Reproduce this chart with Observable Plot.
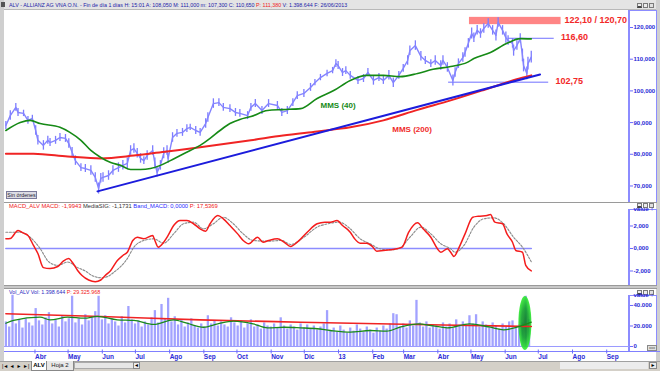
<!DOCTYPE html>
<html><head><meta charset="utf-8">
<script src="https://cdn.jsdelivr.net/npm/d3@7"></script>
<script src="https://cdn.jsdelivr.net/npm/@observablehq/plot@0.6"></script>
<style>
html,body{margin:0;padding:0;}
body{width:660px;height:371px;overflow:hidden;background:#cfcfcf;font-family:Arial,"Liberation Sans",sans-serif;}
#win{position:relative;width:660px;height:371px;overflow:hidden;}
.a{position:absolute;}
.w{background:#fff;}
.axbox{border-left:2px solid #8c8cff;border-right:1px solid #8c8cff;border-top:1px solid #8c8cff;box-sizing:border-box;}
.ttl{font-size:5.8px;line-height:8px;white-space:nowrap;}
.btn{width:5px;height:5px;border:1px solid #7a7a7a;background:#ececec;box-sizing:border-box;}
#win svg{position:absolute;overflow:visible;}
.tab{font-size:6px;line-height:8px;white-space:nowrap;}
</style></head>
<body><div id="win"></div>
<script>
// ---------- data ----------
const price = [["2012-03-07",89.1],["2012-03-11",92.2],["2012-03-16",94.8],["2012-03-18",93.2],["2012-03-23",92.9],["2012-03-27",90.7],["2012-03-31",91.3],["2012-04-03",87.5],["2012-04-05",84.4],["2012-04-10",82.8],["2012-04-14",84.4],["2012-04-16",83.7],["2012-04-21",84.4],["2012-04-25",85.3],["2012-04-30",85.0],["2012-05-03",83.4],["2012-05-06",80.6],["2012-05-09",78.0],["2012-05-14",75.8],["2012-05-18",75.5],["2012-05-23",74.9],["2012-05-27",72.7],["2012-05-30",69.2],["2012-06-01",72.4],["2012-06-03",72.7],["2012-06-08",73.3],["2012-06-12",74.9],["2012-06-17",75.8],["2012-06-21",76.5],["2012-06-25",77.1],["2012-06-28",81.2],["2012-07-01",81.8],["2012-07-04",80.3],["2012-07-07",78.7],["2012-07-10",78.0],["2012-07-13",79.6],["2012-07-18",81.2],["2012-07-20",77.1],["2012-07-22",74.3],["2012-07-25",76.5],["2012-07-28",80.3],["2012-07-31",81.2],["2012-08-01",78.7],["2012-08-05",85.3],["2012-08-09",86.6],["2012-08-14",86.9],["2012-08-18",88.1],["2012-08-21",88.5],["2012-08-26",87.5],["2012-08-30",86.9],["2012-09-04",89.7],["2012-09-06",91.6],["2012-09-11",96.0],["2012-09-16",96.3],["2012-09-20",94.8],["2012-09-26",94.4],["2012-10-01",93.2],["2012-10-05",92.9],["2012-10-12",92.2],["2012-10-15",94.8],["2012-10-19",96.0],["2012-10-25",93.8],["2012-10-31",96.0],["2012-11-08",95.4],["2012-11-12",93.2],["2012-11-17",93.8],["2012-11-22",96.3],["2012-11-26",98.5],["2012-12-02",99.2],["2012-12-08",101.1],["2012-12-12",102.6],["2012-12-17",104.2],["2012-12-23",105.5],["2012-12-28",106.4],["2012-12-31",108.6],["2013-01-02",108.0],["2013-01-06",105.8],["2013-01-09",106.4],["2013-01-13",104.9],["2013-01-20",103.3],["2013-01-25",103.9],["2013-01-29",105.8],["2013-02-03",103.3],["2013-02-08",104.2],["2013-02-12",103.3],["2013-02-17",104.9],["2013-02-21",102.6],["2013-02-26",104.9],["2013-03-02",107.1],["2013-03-06",109.6],["2013-03-08",112.7],["2013-03-13",114.3],["2013-03-18",110.9],["2013-03-22",109.6],["2013-03-27",108.6],["2013-03-31",109.6],["2013-04-05",108.0],["2013-04-07",109.6],["2013-04-11",107.4],["2013-04-16",103.3],["2013-04-18",105.8],["2013-04-21",108.6],["2013-04-25",110.5],["2013-04-27",112.1],["2013-04-30",115.0],["2013-05-03",118.1],["2013-05-05",116.8],["2013-05-08",119.1],["2013-05-11",118.1],["2013-05-14",119.7],["2013-05-18",121.3],["2013-05-22",119.1],["2013-05-25",117.5],["2013-05-27",121.6],["2013-05-31",119.1],["2013-06-03",116.8],["2013-06-05",115.9],["2013-06-09",115.0],["2013-06-10",112.7],["2013-06-13",114.3],["2013-06-16",116.5],["2013-06-18",111.2],["2013-06-19",108.0],["2013-06-22",105.5],["2013-06-23",108.6],["2013-06-26",110.65]];
// daily high-low spread seen around each price point
const priceSpread = [2.5,3,2.5,2.5,2,2.5,2, 3,3,3,2.5,2.5,2.5,2.5,2.5, 3,3,3,2.5,2.5,3,3,3.5, 3,3,3,3,3,3,3.5,3, 3,3,3,2.5,3,3,3.5,3,3,3.5,3, 3,3,2.5,2.5,2.5,2,2.5,2.5, 3,3,3,2.5,2.5,2.5, 2.5,2.5,2.5,2.5,2.5,2.5,2.5, 2.5,2.5,2.5,2.5,2.5, 2.5,2.5,2,2,2,2,2.5, 2.5,2.5,2.5,2.5,2.5,2.5,2.5, 3,2.5,2.5,3,3,2.5, 2.5,3,3,3,3,2.5,2.5,3, 3,3,3,3.5,3,3,3,3,3, 3.5,3,3,3,3,3,3,3.5,3,3, 3.5,3,3,3.5,3,3,4,4,4,4,3.7];

const mms40 = [["2012-03-07",87.5],["2012-03-20",90.0],["2012-03-29",90.7],["2012-04-07",89.7],["2012-04-25",88.5],["2012-05-04",86.9],["2012-05-14",84.4],["2012-05-23",81.2],["2012-06-01",79.0],["2012-06-10",77.4],["2012-06-19",76.5],["2012-06-28",75.2],["2012-07-07",75.2],["2012-07-16",75.5],["2012-07-25",76.5],["2012-08-03",78.0],["2012-08-12",79.6],["2012-08-21",81.2],["2012-08-30",82.8],["2012-09-08",85.0],["2012-09-17",87.5],["2012-09-26",89.7],["2012-10-05",91.0],["2012-10-15",91.9],["2012-10-30",93.8],["2012-11-13",94.1],["2012-11-29",94.4],["2012-12-14",97.6],["2012-12-29",100.1],["2013-01-13",103.3],["2013-01-28",104.9],["2013-02-12",104.9],["2013-02-27",104.5],["2013-03-15",105.5],["2013-03-29",106.8],["2013-04-14",107.7],["2013-04-29",109.0],["2013-05-05",110.2],["2013-05-20",112.1],["2013-06-04",115.0],["2013-06-16",116.5],["2013-06-26",116.4]];

const mms200 = [["2012-03-07",80.2],["2012-04-01",80.2],["2012-05-02",79.3],["2012-06-01",78.7],["2012-07-01",79.6],["2012-07-31",80.9],["2012-08-30",82.2],["2012-10-15",84.4],["2012-11-13",85.9],["2012-12-14",87.2],["2013-01-13",88.5],["2013-02-12",90.7],["2013-03-15",94.0],["2013-04-14",97.0],["2013-05-14",100.3],["2013-05-29",102.0],["2013-06-12",103.6],["2013-06-26",104.9]];

const trendLine = [["2012-05-29",68.3],["2013-07-04",105.2]];
const level116 = [["2013-06-05",116.6],["2013-07-16",116.6]];
const level102 = [["2013-04-12",102.75],["2013-07-11",102.75]];
const resistBand = {x1:"2013-05-01", x2:"2013-07-23", y1:120.9, y2:123.2};
const priceLabels = [["2013-07-26",122.2,"122,10 / 120,70"],["2013-07-23",116.85,"116,60"],["2013-07-18",103.0,"102,75"]];
const maLabels = [["2013-01-02",95.4,"MMS (40)","#168a16"],["2013-03-10",87.8,"MMS (200)","#f02a2a"]];
const mainTicks = [70,80,90,100,110,120];

const macd = [["2012-03-07",0.86],["2012-03-11",0.89],["2012-03-18",1.6],["2012-03-23",1.36],["2012-03-27",1.16],["2012-04-01",0.27],["2012-04-05",-0.44],["2012-04-10",-1.7],["2012-04-16",-1.78],["2012-04-23",-1.6],["2012-04-28",-1.13],["2012-05-03",-0.9],["2012-05-06",-1.2],["2012-05-11",-1.95],["2012-05-15",-2.4],["2012-05-21",-2.8],["2012-05-27",-2.95],["2012-06-01",-2.8],["2012-06-05",-2.4],["2012-06-10",-1.95],["2012-06-16",-1.07],["2012-06-21",-0.62],["2012-06-25",-0.33],["2012-06-30",0.71],["2012-07-04",1.0],["2012-07-10",0.86],["2012-07-18",1.16],["2012-07-20",0.71],["2012-07-23",0.12],["2012-07-28",0.56],["2012-08-01",1.16],["2012-08-06",2.04],["2012-08-12",2.49],["2012-08-18",2.49],["2012-08-24",2.2],["2012-08-30",1.75],["2012-09-04",1.54],["2012-09-08",2.2],["2012-09-15",2.93],["2012-09-20",2.64],["2012-09-26",2.04],["2012-10-03",1.3],["2012-10-08",0.71],["2012-10-13",0.42],["2012-10-21",1.0],["2012-10-26",0.56],["2012-10-31",0.71],["2012-11-08",0.86],["2012-11-14",0.56],["2012-11-20",0.18],["2012-11-26",0.56],["2012-12-05",1.45],["2012-12-14",2.2],["2012-12-21",2.34],["2012-12-26",2.34],["2013-01-01",2.49],["2013-01-06",2.04],["2013-01-13",1.45],["2013-01-17",0.86],["2013-01-22",0.47],["2013-01-28",0.47],["2013-02-02",0.18],["2013-02-06",-0.24],["2013-02-12",-0.18],["2013-02-18",-0.12],["2013-02-24",-0.03],["2013-03-01",0.12],["2013-03-07",1.45],["2013-03-15",2.28],["2013-03-20",1.75],["2013-03-27",1.0],["2013-04-02",-0.03],["2013-04-05",-0.33],["2013-04-11",-0.03],["2013-04-14",-0.33],["2013-04-17",-0.71],["2013-04-21",-0.03],["2013-04-27",1.3],["2013-05-04",2.78],["2013-05-09",2.87],["2013-05-17",2.93],["2013-05-20",3.02],["2013-05-24",2.34],["2013-05-31",2.2],["2013-06-04",1.3],["2013-06-09",0.56],["2013-06-12",-0.18],["2013-06-18",-0.33],["2013-06-21",-1.5],["2013-06-26",-1.99]];

const signal = [["2012-03-07",1.45],["2012-03-20",1.45],["2012-03-29",1.0],["2012-04-07",0.0],["2012-04-15",-1.2],["2012-04-23",-1.5],["2012-05-02",-1.2],["2012-05-11",-1.7],["2012-05-18",-2.0],["2012-05-24",-2.4],["2012-06-01",-2.6],["2012-06-07",-2.5],["2012-06-13",-2.1],["2012-06-25",-0.9],["2012-07-01",0.12],["2012-07-10",0.71],["2012-07-19",0.86],["2012-07-28",0.47],["2012-08-06",1.3],["2012-08-15",2.2],["2012-08-24",2.34],["2012-09-02",1.75],["2012-09-11",2.2],["2012-09-20",2.78],["2012-09-29",2.2],["2012-10-08",1.3],["2012-10-17",0.71],["2012-10-30",0.65],["2012-11-12",0.71],["2012-11-20",0.36],["2012-12-02",1.0],["2012-12-14",1.9],["2012-12-24",2.2],["2013-01-03",2.34],["2013-01-13",1.75],["2013-01-22",0.86],["2013-01-31",0.42],["2013-02-09",-0.03],["2013-02-18",-0.12],["2013-02-27",0.06],["2013-03-08",1.0],["2013-03-18",1.9],["2013-03-27",1.3],["2013-04-05",0.42],["2013-04-14",-0.03],["2013-04-18",-0.33],["2013-04-26",0.27],["2013-05-05",1.9],["2013-05-14",2.64],["2013-05-23",2.73],["2013-06-01",2.2],["2013-06-10",1.0],["2013-06-18",0.12],["2013-06-26",-1.17]];
const macdBand = [["2012-03-07",0],["2013-06-26",0]];
const macdTicks = [-2,0,2];

// volume (thousands), one bar every 3 calendar days from volStart
const volStart = "2012-03-07";
const volume = [24,19,50,22,26,18,27,23,20,37, 25,21,28,33,22,26,19,30,24,27, 49,23,27,21,31,25,28,34,49,26, 30,22,27,24,20,29,23,39,26,22, 25,19,24,21,28,35,23,41,27,47, 24,29,21,26,19,23,27,20,18,22, 19,30,22,25,20,24,21,19,28,23, 20,25,18,22,26,19,21,17,23,20, 19,22,18,28,20,17,21,19,16,22, 18,21,17,20,16,19,22,35,15,18, 14,20,16,13,18,15,21,17,14,19, 16,13,18,15,20,17,22,32,31,19, 22,18,25,20,45,23,19,24,18,21, 20,17,23,19,22,18,26,21,24,20, 30,22,31,19,24,21,18,23,20,17, 22,19,24,25,18,21,23,49,26];
const volMA200 = [["2012-03-07",31.9],["2012-06-01",29.3],["2012-08-30",26.0],["2012-11-29",23.7],["2013-03-27",21.2],["2013-06-26",19.5]];
const volMA40 = [["2012-03-07",22.7],["2012-03-14",25.4],["2012-04-07",28.6],["2012-04-16",26.0],["2012-05-02",28.6],["2012-05-17",27.6],["2012-05-29",29.3],["2012-06-16",26.0],["2012-07-01",25.4],["2012-07-19",21.5],["2012-08-06",26.0],["2012-08-18",22.7],["2012-09-02",18.8],["2012-09-15",22.1],["2012-09-29",24.7],["2012-10-17",22.1],["2012-10-30",18.2],["2012-11-14",18.8],["2012-11-29",18.2],["2012-12-14",17.3],["2012-12-26",15.6],["2013-01-13",14.0],["2013-01-31",15.6],["2013-02-15",14.9],["2013-02-27",18.8],["2013-03-16",22.1],["2013-03-27",20.5],["2013-04-11",18.2],["2013-05-01",22.1],["2013-05-20",18.8],["2013-06-01",16.3],["2013-06-13",18.8],["2013-06-26",23.7]];
const volTicks = [0,20,40];
const volHighlight = {date:"2013-06-20T16:00Z", value:22.4};

const monthTicks = ["2012-04-01","2012-05-01","2012-06-01","2012-07-01","2012-08-01","2012-09-01","2012-10-01","2012-11-01","2012-12-01","2013-01-01","2013-02-01","2013-03-01","2013-04-01","2013-05-01","2013-06-01","2013-07-01","2013-08-01","2013-09-01"];
const monthLabels = ["Abr","May","Jun","Jul","Ago","Sep","Oct","Nov","Dic","13","Feb","Mar","Abr","May","Jun","Jul","Ago","Sep"];

// ---------- helpers ----------
const P = d3.utcParse("%Y-%m-%d");
const rows = arr => arr.map(([d, v]) => ({date: P(d), value: v}));
const xDomain = [new Date("2012-03-05T18:00Z"), new Date("2013-09-23T00:00Z")];
const FONT = "Arial, 'Liberation Sans', sans-serif";
const AX = "#2a2ad6", AXT = "#6a6aff";
const commaFmt = d => d.toFixed(3).replace(".", ",");
const win = document.getElementById("win");
function div(cls, css, html) {
  const e = document.createElement("div");
  e.className = "a " + (cls || "");
  e.style.cssText = css;
  if (html) e.innerHTML = html;
  win.appendChild(e);
  return e;
}
function buttons(top) {
  [637, 643, 649].forEach((l, i) => {
    div("btn", `left:${l}px;top:${top}px;` + (i === 0 ? "border-bottom:2px solid #444;" : i === 2 ? "background:#e0e0e0;" : ""));
  });
}

// ---------- window chrome ----------
div("", "left:4px;top:0;width:652px;height:10px;background:#e4e4e4;border-bottom:1px solid #b8b8b8;box-sizing:border-box;");
div("", "left:1px;top:2px;width:4px;height:5px;background:#555;");
div("ttl", "left:9px;top:1px;color:#1b1ba8;font-size:5.35px;",
  "ALV - ALLIANZ AG VNA O.N. - Fin de día 1 días H: 15:01 A: 108,050 M: 111,000 m: 107,300 C: 110,650 <span style='color:#f02020'>P: 111,380</span> V: 1.398.644 F: 26/06/2013");
buttons(3);
div("w", "left:4px;top:10px;width:652px;height:192px;");
div("axbox", "left:628px;top:10px;width:29px;height:192px;");
div("", "left:4px;top:202px;width:653px;height:1px;background:#9a9a9a;");

div("w", "left:4px;top:203px;width:652px;height:82px;");
div("axbox", "left:628px;top:209px;width:29px;height:77px;");
buttons(203);
div("ttl", "left:9px;top:202px;",
  "<span style='color:#f02020'>MACD_ALV MACD: -1,9943</span> <span style='color:#333'>MediaSIG: -1,1731</span> <span style='color:#2a2aff'>Band_MACD: 0,0000</span> <span style='color:#f02020'>P: 17,5369</span>");
div("", "left:4px;top:285px;width:653px;height:4px;background:#c8c8c8;border-top:1px solid #9a9a9a;border-bottom:1px solid #9a9a9a;box-sizing:border-box;");

div("w", "left:4px;top:289px;width:652px;height:72px;");
div("axbox", "left:628px;top:295px;width:29px;height:56px;");
buttons(290);
div("ttl", "left:9px;top:288px;font-size:5.4px;",
  "<span style='color:#2a2ac0'>Vol_ALV Vol: 1.398.644</span> <span style='color:#f02020'>P: 29.325.968</span>");
div("", "left:647px;top:345px;width:10px;height:6px;background:#e0e0e0;border:1px solid #888;box-sizing:border-box;font-size:4px;line-height:4px;text-align:center;color:#444;", "xxx");
div("", "left:4px;top:351px;width:656px;height:1px;background:#8080ff;");

// tab bar
div("", "left:0;top:361px;width:660px;height:10px;background:#d4d0c8;border-top:1px solid #a0a0a0;box-sizing:border-box;");
["|◄","◄","►","►|"].forEach((t, i) => div("tab", `left:${2 + i * 7}px;top:362px;width:6px;height:8px;font-size:5px;color:#000;text-align:center;`, t));
div("tab", "left:31px;top:361px;width:14px;height:9px;background:#fff;border:1px solid #888;border-top:none;font-weight:bold;text-align:center;", "ALV");
div("tab", "left:46px;top:361px;width:26px;height:9px;background:#e8e8e8;border:1px solid #888;border-top:none;text-align:center;color:#222;", "Hoja 2");
div("", "left:74px;top:362px;width:66px;height:7px;background:#e6e6e6;border:1px solid #aaa;box-sizing:border-box;");
div("tab", "left:133px;top:362px;width:7px;height:7px;background:#ececec;border:1px solid #888;box-sizing:border-box;font-size:5px;line-height:5px;text-align:center;", "◄");
div("", "left:560px;top:362px;width:88px;height:7px;background:#ececec;");
div("tab", "left:649px;top:362px;width:8px;height:7px;background:#ececec;border:1px solid #888;box-sizing:border-box;font-size:5px;line-height:5px;text-align:center;", "►");

// sin ordenes button
div("", "left:6px;top:191px;width:31px;height:8px;background:#dcdce4;border:1px solid #7a7a9a;box-sizing:border-box;font-size:5.3px;line-height:6px;text-align:center;color:#223;", "Sin órdenes");

// ---------- plots ----------
const common = {
  width: 652, marginLeft: 0, marginRight: 27, marginTop: 0,
  style: {background: "transparent", fontFamily: FONT, overflow: "visible"}
};
const yAxisRight = (ticks, fmt) => Plot.axisY({anchor: "right", ticks, tickFormat: fmt, tickSize: 3, tickPadding: 1,
  fontSize: 6, fontWeight: "bold", fill: AX, stroke: AXT, textAnchor: "start"});

const band = {x1: P(resistBand.x1), x2: P(resistBand.x2), y1: resistBand.y1, y2: resistBand.y2};
const priceRows = price.map(([d, v], i) => ({date: P(d), value: v, lo: v - priceSpread[i] / 2, hi: v + priceSpread[i] / 2}));
const mainPlot = Plot.plot({
  ...common, height: 190, marginBottom: 0,
  x: {type: "utc", domain: xDomain, axis: null},
  y: {domain: [65.1, 125.05]},
  marks: [
    Plot.rect([band], {x1: "x1", x2: "x2", y1: "y1", y2: "y2", fill: "#ff8585"}),
    Plot.line(rows(level116), {x: "date", y: "value", stroke: "#7070ff", strokeWidth: 1}),
    Plot.line(rows(level102), {x: "date", y: "value", stroke: "#7070ff", strokeWidth: 1}),
    Plot.ruleX(priceRows, {x: "date", y1: "lo", y2: "hi", stroke: "#7c7cff", strokeWidth: 1.3}),
    Plot.line(priceRows, {x: "date", y: "value", stroke: "#8484ff", strokeWidth: 1.4}),
    Plot.line(rows(mms200), {x: "date", y: "value", stroke: "#f02424", strokeWidth: 2, curve: "monotone-x"}),
    Plot.line(rows(trendLine), {x: "date", y: "value", stroke: "#1c1cdc", strokeWidth: 2}),
    Plot.line(rows(mms40), {x: "date", y: "value", stroke: "#168a16", strokeWidth: 1.6, curve: "monotone-x"}),
    Plot.text(priceLabels.map(([d, v, t]) => ({date: P(d), value: v, t})), {x: "date", y: "value", text: "t",
      textAnchor: "start", fill: "#f22828", fontWeight: "bold", fontSize: 9}),
    Plot.text(maLabels.map(([d, v, t, c]) => ({date: P(d), value: v, t, c})), {x: "date", y: "value", text: "t",
      fill: "c", fontWeight: "bold", fontSize: 8}),
    yAxisRight(mainTicks, commaFmt)
  ]
});
mainPlot.style.left = "4px"; mainPlot.style.top = "11px";
win.appendChild(mainPlot);

const macdPlot = Plot.plot({
  ...common, height: 83, marginBottom: 0,
  x: {type: "utc", domain: xDomain, axis: null},
  y: {domain: [-3.378, 4.0]},
  marks: [
    Plot.line(rows(macdBand), {x: "date", y: "value", stroke: "#8c8cff", strokeWidth: 1.6}),
    Plot.line(rows(signal), {x: "date", y: "value", stroke: "#8a8a8a", strokeWidth: 1.1, strokeDasharray: "2,1.5", curve: "monotone-x"}),
    Plot.line(rows(macd), {x: "date", y: "value", stroke: "#f41c1c", strokeWidth: 1.5, curve: "monotone-x"}),
    yAxisRight(macdTicks, commaFmt)
  ]
});
macdPlot.style.left = "4px"; macdPlot.style.top = "203px";
win.appendChild(macdPlot);

const vStart = P(volStart);
const volRows = volume.map((v, i) => ({date: d3.utcDay.offset(vStart, 3 * i), value: v}));
const tickDates = monthTicks.map(P);
const volPlot = Plot.plot({
  ...common, height: 73, marginBottom: 11,
  x: {type: "utc", domain: xDomain},
  y: {domain: [-4.88, 55.6]},
  marks: [
    Plot.ruleY([0], {stroke: "#9a9aff", strokeWidth: 1}),
    Plot.ruleX(volRows, {x: "date", y1: 0, y2: "value", stroke: "#a2a2ff", strokeWidth: 2.3}),
    Plot.line(rows(volMA200), {x: "date", y: "value", stroke: "#f02424", strokeWidth: 1.6, curve: "monotone-x"}),
    Plot.line(rows(volMA40), {x: "date", y: "value", stroke: "#1a8a1a", strokeWidth: 1.3, curve: "monotone-x"}),
    yAxisRight(volTicks, d => d === 0 ? "0" : d + ".000"),
    Plot.axisX({anchor: "bottom", ticks: tickDates, tickFormat: d => monthLabels[tickDates.findIndex(t => +t === +d)],
      tickSize: 4, tickPadding: 0, textAnchor: "start", dx: 1.5, dy: -1.5, fontSize: 6.5, fontWeight: "bold", fill: AX, stroke: AXT})
  ]
});
volPlot.style.left = "4px"; volPlot.style.top = "289px";
win.appendChild(volPlot);

// highlight ellipse on the volume panel, placed through the plot's own scales
(function () {
  const ns = "http://www.w3.org/2000/svg";
  const xs = volPlot.scale("x"), ys = volPlot.scale("y");
  const defs = document.createElementNS(ns, "defs");
  defs.innerHTML = '<radialGradient id="eg" cx="50%" cy="50%" r="50%"><stop offset="0%" stop-color="#0a7a24"/><stop offset="55%" stop-color="#10a02a"/><stop offset="100%" stop-color="#30ee30"/></radialGradient>';
  volPlot.appendChild(defs);
  const e = document.createElementNS(ns, "ellipse");
  e.setAttribute("cx", xs.apply(new Date(volHighlight.date)));
  e.setAttribute("cy", ys.apply(volHighlight.value));
  e.setAttribute("rx", 6.5);
  e.setAttribute("ry", 27);
  e.setAttribute("fill", "url(#eg)");
  e.setAttribute("opacity", 0.9);
  const firstLine = volPlot.querySelector('g[aria-label="line"]');
  if (firstLine) volPlot.insertBefore(e, firstLine); else volPlot.appendChild(e);
})();
</script>
</body></html>
